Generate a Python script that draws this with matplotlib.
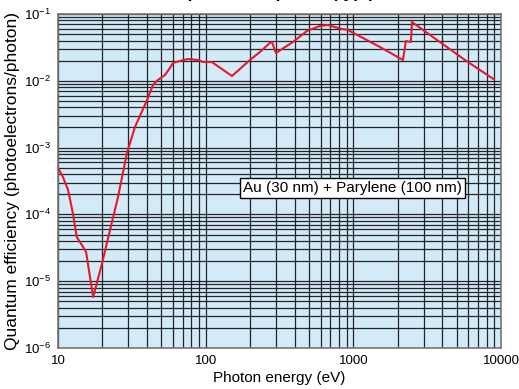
import matplotlib
matplotlib.use('Agg')
import matplotlib.pyplot as plt
from matplotlib.ticker import LogLocator, FixedLocator, FixedFormatter

plt.rcParams['font.family'] = ['Liberation Sans', 'DejaVu Sans']
plt.rcParams['mathtext.default'] = 'regular'

# Quantum efficiency curve
energy = [10, 10.8, 11.7, 12.6, 13.4, 14.8, 15.5, 17.3, 19.9, 22.5, 25.5, 29.3,
          33.2, 40.1, 44, 47.5, 53, 57.3, 60.1, 67, 75.9, 88.7, 95.9, 110,
          150.7, 199.5, 233, 272, 281, 299, 390, 485, 594, 673, 750, 837, 919,
          1513, 2168, 2270, 2455, 2494, 5700, 7200, 8960]
qe = [4.95e-4, 3.63e-4, 2.32e-4, 1.05e-4, 4.59e-5, 3.25e-5, 2.73e-5, 5.8e-6,
      1.87e-5, 5.83e-5, 1.82e-4, 8.3e-4, 2.03e-3, 5.16e-3, 8.65e-3, 1.03e-2,
      1.22e-2, 1.56e-2, 1.85e-2, 1.98e-2, 2.12e-2, 2.05e-2, 1.91e-2, 1.91e-2,
      1.18e-2, 2.05e-2, 2.70e-2, 3.68e-2, 3.81e-2, 2.61e-2, 3.81e-2, 5.57e-2,
      6.61e-2, 6.84e-2, 6.38e-2, 5.96e-2, 5.76e-2, 3.21e-2, 2.05e-2, 3.94e-2,
      3.81e-2, 7.59e-2, 2.05e-2, 1.45e-2, 1.05e-2]

x_ticks = [10, 100, 1000, 10000]
x_labels = ['10', '100', '1000', '10000']
y_ticks = [1e-6, 1e-5, 1e-4, 1e-3, 1e-2, 1e-1]
y_labels = ['$10^{-6}$', '$10^{-5}$', '$10^{-4}$', '$10^{-3}$', '$10^{-2}$', '$10^{-1}$']

fig = plt.figure(figsize=(5.19, 3.89), dpi=100)
ax = fig.add_axes([58/519, 1 - 348/389, 443/519, 334/389])
ax.set_facecolor('#d3eaf8')

ax.plot(energy, qe, color='#e8182a', lw=1.5, zorder=3)

ax.set_xscale('log')
ax.set_yscale('log')
ax.set_xlim(10, 10000)
ax.set_ylim(1e-6, 1e-1)

ax.xaxis.set_major_locator(FixedLocator(x_ticks))
ax.xaxis.set_major_formatter(FixedFormatter(x_labels))
ax.yaxis.set_major_locator(FixedLocator(y_ticks))
ax.yaxis.set_major_formatter(FixedFormatter(y_labels))
ax.xaxis.set_minor_locator(LogLocator(base=10, subs=range(2, 10)))
ax.yaxis.set_minor_locator(LogLocator(base=10, subs=range(2, 10)))
ax.xaxis.set_minor_formatter(FixedFormatter([]))
ax.yaxis.set_minor_formatter(FixedFormatter([]))

ax.grid(which='both', color='#111111', lw=0.9, alpha=0.9)
ax.set_axisbelow(True)
ax.tick_params(which='both', length=0, labelsize=9.5, pad=5)
for s in ax.spines.values():
    s.set_color('#777777')
    s.set_linewidth(1.2)

ax.set_xlabel('Photon energy (eV)', fontsize=11, labelpad=3)
ax.set_ylabel('Quantum efficiency (photoelectrons/photon)', fontsize=12.5, labelpad=3)

ax.text(0.664, 0.479, 'Au (30 nm) + Parylene (100 nm)', transform=ax.transAxes,
        ha='center', va='center', fontsize=11,
        bbox=dict(boxstyle='square,pad=0.2', fc='white', ec='black', lw=1))

# title is clipped at the top of the reference image
fig.text(0.53, 1.004, 'Spectral response (typ.)', ha='center', va='baseline',
         fontsize=12.5, weight='bold')

fig.savefig('out.png', dpi=100)
